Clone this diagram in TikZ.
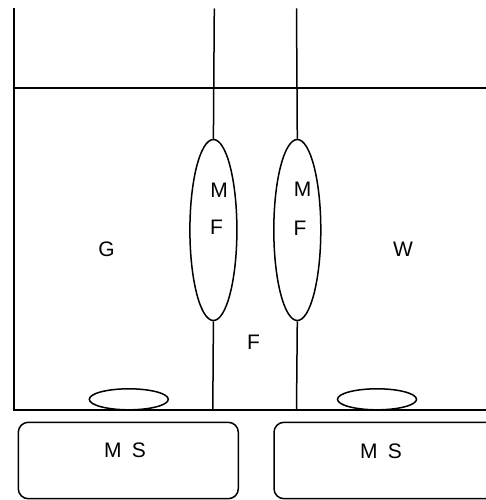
\documentclass[tikz,border=0pt]{standalone}
\usepackage{fontspec}
\setmainfont{Liberation Sans}
\usetikzlibrary{shapes.geometric}
\begin{document}
\begin{tikzpicture}[x=1pt,y=-1pt,
  wire/.style={line width=1.5pt,black},
  bigoval/.style={ellipse,draw,line width=1.5pt,inner sep=0pt,minimum width=47pt,minimum height=181pt},
  smalloval/.style={ellipse,draw,line width=1.5pt,inner sep=0pt,minimum width=79pt,minimum height=21pt},
  msbox/.style={draw,line width=1.5pt,rounded corners=10pt},
  lbl/.style={inner sep=0pt,font=\fontsize{21}{24}\selectfont}]
\useasboundingbox (0,0) rectangle (486,500);

% frame lines
\coordinate (frameTop) at (14,8.5);
\coordinate (frameBot) at (14,410);
\coordinate (frameBotR) at (490,410);
\coordinate (hLineL) at (14,88);
\coordinate (hLineR) at (490,88);
\draw[wire] (frameTop) -- (frameBot) -- (frameBotR);
\draw[wire] (hLineL) -- (hLineR);

% membrane ovals
\node[bigoval] (mfL) at (213.4,230) {};
\node[bigoval] (mfR) at (297.3,230) {};

% lines through the ovals
\coordinate (topL) at (214.3,8.5);
\coordinate (topR) at (296.5,8.5);
\coordinate (botL) at (212.8,410);
\coordinate (botR) at (296.5,410);
\draw[wire] (topL) -- (mfL.north);
\draw[wire] (mfL.south) -- (botL);
\draw[wire] (topR) -- (mfR.north);
\draw[wire] (mfR.south) -- (botR);

% small ovals on the base line
\node[smalloval] (ovL) at (128.8,399.3) {};
\node[smalloval] (ovR) at (377,399.3) {};

% MS boxes
\draw[msbox] (18.3,422.3) rectangle (238.3,498.7);
\draw[msbox] (274,422.3) rectangle (500,498.7);
\node[lbl] (msL) at (125,450.5) {M\kern0.5em S};
\node[lbl] (msR) at (381,451) {M\kern0.5em S};

% labels
\node[lbl] (mL) at (219,190.5) {M};
\node[lbl] (fL) at (216.5,227) {F};
\node[lbl] (mR) at (302.5,189.5) {M};
\node[lbl] (fR) at (300,228.5) {F};
\node[lbl] (g) at (106.5,249) {G};
\node[lbl] (w) at (403,249) {W};
\node[lbl] (f) at (253.5,342.5) {F};
\end{tikzpicture}
\end{document}
